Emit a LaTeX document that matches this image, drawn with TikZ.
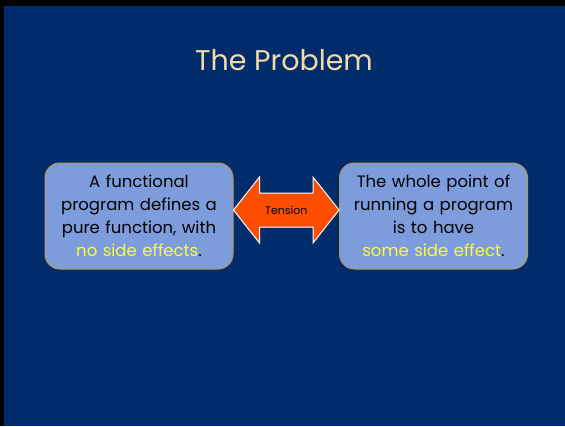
\documentclass[tikz,border=0pt]{standalone}
\usepackage{fontspec}
\setmainfont{Poppins}
\usepackage{xcolor}
\usetikzlibrary{positioning, calc}

\definecolor{slideblue}{HTML}{002C6B}
\definecolor{boxblue}{HTML}{7D9CDB}
\definecolor{boxedge}{HTML}{B39A5A}
\definecolor{titlecream}{HTML}{F0DDA6}
\definecolor{hiyellow}{HTML}{FFFF33}
\definecolor{tensionred}{HTML}{FF4E00}

\begin{document}
\begin{tikzpicture}[x=1pt, y=-1pt,
    claim/.style={draw=boxedge, line width=1pt, fill=boxblue, rounded corners=15pt,
      minimum width=188pt, minimum height=106pt, text width=176pt, align=center,
      font=\fontsize{16.5}{23}\selectfont},
    tensionarrow/.style={draw=white, line width=1pt, fill=tensionred, line join=miter}]
      \fill[black] (0, 0) rectangle (565, 426);
      \fill[slideblue] (4, 6) rectangle (565, 426);

      \node[text=titlecream, font=\fontsize{28.5}{32}\selectfont] (title) at (284, 60) {The Problem};

      \node[claim] (pure) at (139, 216) {A functional\\program defines a\\pure function, with\\\textcolor{hiyellow}{no side effects}.};
      \node[claim] (effect) at (433.5, 216) {The whole point of\\running a program\\is to have\\\textcolor{hiyellow}{some side effect}.};

      % double headed arrow between the two claims
      \coordinate (ltip) at (pure.east |- 0, 210);
      \coordinate (rtip) at (effect.west |- 0, 210);
      \draw[tensionarrow] (ltip) -- ++(26, -33) -- ++(0, 16) -- ($(rtip) + (-26, -17)$) -- ++(0, -16)
        -- (rtip) -- ++(-26, 33) -- ++(0, -16) -- ($(ltip) + (26, 17)$) -- ++(0, 16) -- cycle;
      \node[font=\fontsize{11}{13}\selectfont] (tension) at ($(ltip)!0.5!(rtip)$) {Tension};

    \end{tikzpicture}
\end{document}
